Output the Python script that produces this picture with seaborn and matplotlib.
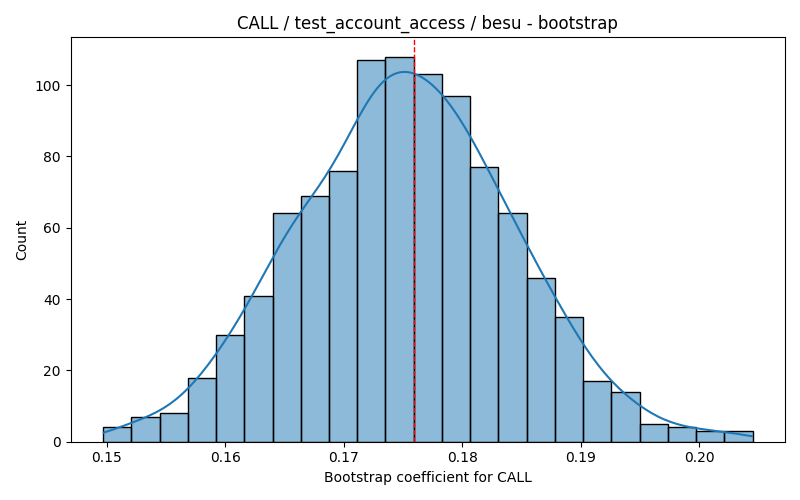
import numpy as np
import pandas as pd
import matplotlib
matplotlib.use("Agg")
import matplotlib.pyplot as plt
import seaborn as sns

# bootstrap histogram
bin_start = 0.1497
bin_width = 0.002383
counts = [4, 7, 8, 18, 30, 41, 64, 69, 76, 107, 108, 103,
          97, 77, 64, 46, 35, 17, 14, 5, 4, 3, 3]
point_estimate = 0.1759

edges = bin_start + bin_width * np.arange(len(counts) + 1)
centers = (edges[:-1] + edges[1:]) / 2
data = pd.DataFrame({"coef": centers, "n": counts})

fig, ax = plt.subplots(figsize=(8, 5))
sns.histplot(data=data, x="coef", weights="n", bins=list(edges), kde=True,
             edgecolor="black", kde_kws={"bw_adjust": 0.44, "cut": 0.3}, ax=ax)
ax.axvline(point_estimate, color="red", linestyle="--", linewidth=1)

ax.set_title("CALL / test_account_access / besu - bootstrap")
ax.set_xlabel("Bootstrap coefficient for CALL")
ax.set_ylabel("Count")

plt.tight_layout()
plt.savefig("out.png", dpi=100)
